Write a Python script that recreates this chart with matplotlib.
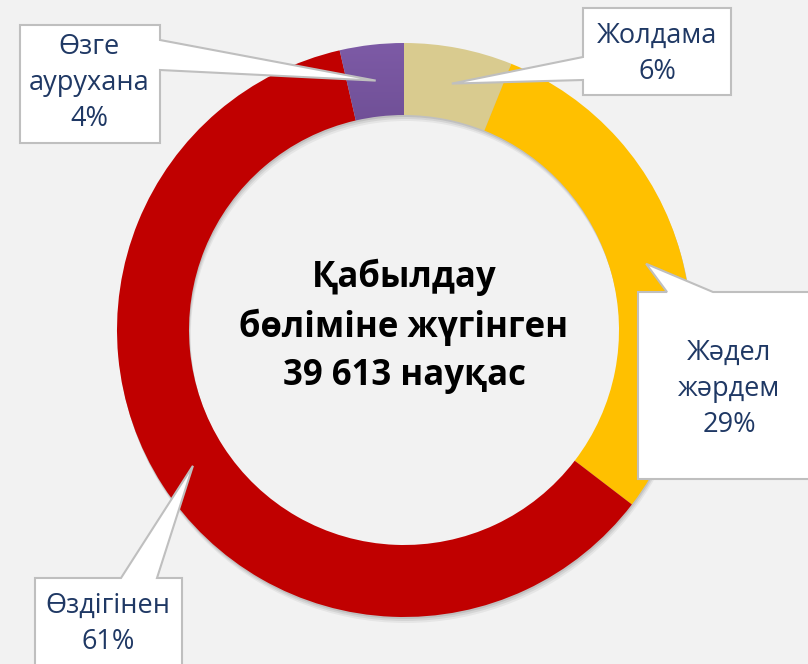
import numpy as np
import matplotlib
matplotlib.use("Agg")
import matplotlib.pyplot as plt
from matplotlib.patches import Polygon, Wedge
from matplotlib.colors import LinearSegmentedColormap

# ---- data ----
categories = ["Жолдама", "Жәдел\nжәрдем", "Өздігінен", "Өзге\nаурухана"]
values = [6.1, 29.3, 61.0, 3.6]
colors = ["#D9CB8F", "#FFC000", "#C00000", "#7A58A3"]
center_text = "Қабылдау\nбөліміне жүгінген\n39 613 науқас"

W, H = 808, 664
fig = plt.figure(figsize=(W / 100, H / 100), dpi=100)
fig.patch.set_facecolor("#F2F2F2")
ax = fig.add_axes([0, 0, 1, 1])

def Y(y):
    return H - y

cx, cy = 404, Y(330)
R, ring = 287, 72

# soft shadow
for k, a in [(6, 0.05), (4, 0.07), (2, 0.09)]:
    ax.add_patch(Wedge((cx + k * 0.3, cy - k), R, 0, 360, width=ring,
                       facecolor="#000000", alpha=a, edgecolor="none", zorder=1))

wedges, _ = ax.pie(values, colors=colors, startangle=90, counterclock=False,
                   radius=R, center=(cx, cy),
                   wedgeprops=dict(width=ring, edgecolor="none", zorder=2),
                   frame=True)
ax.set_xlim(0, W)
ax.set_ylim(0, H)
ax.set_aspect("equal")
ax.axis("off")

# purple gradient
pw = wedges[3]
grad = np.linspace(0, 1, 256).reshape(-1, 1)
cmap = LinearSegmentedColormap.from_list("pg", ["#5E4282", "#7E5BA7"])
im = ax.imshow(grad, cmap=cmap, extent=[cx - 80, cx + 10, cy + 100, cy + R + 5],
               origin="lower", aspect="auto", zorder=3)
im.set_clip_path(pw)
pw.set_facecolor("none")
ax.set_xlim(0, W)
ax.set_ylim(0, H)

# tips at ring middle / wedge middle
total = sum(values)
cum = np.cumsum([0] + values)
rm = R - ring / 2
tips = []
for i in range(len(values)):
    mid = (cum[i] + cum[i + 1]) / 2 / total * 360
    th = np.deg2rad(mid)
    tips.append((cx + rm * np.sin(th), cy + rm * np.cos(th)))

edge = "#BFBFBF"
tc = "#1F3864"
fs = 19.5
ls = 1.38

def callout(verts, zorder=5):
    ax.add_patch(Polygon([(x, Y(y)) for x, y in verts],
                         closed=True, facecolor="white", edgecolor=edge, lw=1.5,
                         zorder=zorder, joinstyle="miter"))

def to_px(p):
    return (p[0], H - p[1])

# Жолдама
t = to_px(tips[0])
callout([(583, 8), (731, 8), (731, 95), (583, 95), (583, 80), t, (583, 57)])
ax.text(657, Y(54), f"{categories[0]}\n{round(values[0])}%", ha="center", va="center",
        fontsize=fs, color=tc, family="Open Sans", linespacing=ls, zorder=6)

# Жәдел жәрдем
t = to_px(tips[1])
callout([(638, 292), (667, 292), t, (713, 292), (812, 292), (812, 479), (638, 479)])
ax.text(729, Y(389), f"{categories[1]}\n{round(values[1])}%", ha="center", va="center",
        fontsize=fs, color=tc, family="Open Sans", linespacing=ls, zorder=6)

# Өздігінен
t = to_px(tips[2])
callout([(35, 578), (121, 578), t, (157, 578), (182, 578), (182, 670), (35, 670)])
ax.text(108, Y(624), f"{categories[2]}\n{round(values[2])}%", ha="center", va="center",
        fontsize=fs, color=tc, family="Open Sans", linespacing=ls, zorder=6)

# Өзге аурухана
t = to_px(tips[3])
callout([(20, 25), (160, 25), (160, 40), t, (160, 70), (160, 143), (20, 143)])
ax.text(89, Y(83), f"{categories[3]}\n{round(values[3])}%", ha="center", va="center",
        fontsize=fs, color=tc, family="Open Sans", linespacing=ls, zorder=6)

ax.text(cx, Y(326), center_text, ha="center", va="center", fontsize=25,
        fontweight="bold", color="black", family="Open Sans", linespacing=1.45, zorder=6)

fig.savefig("out.png", dpi=100, facecolor=fig.get_facecolor())
